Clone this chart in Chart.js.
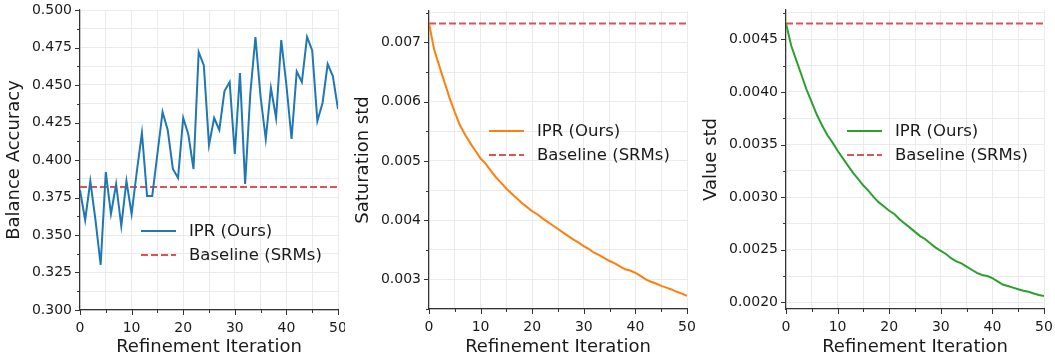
<!DOCTYPE html>
<html>
<head>
<meta charset="utf-8">
<script src="https://cdn.jsdelivr.net/npm/chart.js@4.4.1/dist/chart.umd.min.js"></script>
<style>
  html, body { margin: 0; padding: 0; background: #fff; }
  #wrap { position: relative; width: 1055px; height: 358px; }
  canvas { position: absolute; top: 0; }
</style>
</head>
<body>
<div id="wrap">
  <canvas id="accChart" width="345" height="358" style="left:0px"></canvas>
  <canvas id="satChart" width="350" height="358" style="left:345px"></canvas>
  <canvas id="valChart" width="355" height="358" style="left:700px"></canvas>
</div>
<script>
// --- data ---
const iterations = Array.from({ length: 51 }, (_, i) => i);

const accuracyIPR = [
  0.380, 0.360, 0.386, 0.360, 0.330, 0.392, 0.364, 0.384, 0.356, 0.386,
  0.364, 0.392, 0.418, 0.376, 0.376, 0.404, 0.432, 0.420, 0.394, 0.388,
  0.428, 0.417, 0.394, 0.472, 0.463, 0.410, 0.428, 0.420, 0.446, 0.452,
  0.404, 0.458, 0.384, 0.444, 0.482, 0.442, 0.414, 0.448, 0.428, 0.480,
  0.450, 0.414, 0.459, 0.452, 0.482, 0.473, 0.426, 0.438, 0.464, 0.456,
  0.434
];
const accuracyBaseline = 0.382;

const saturationIPR = [
  0.00732, 0.00688, 0.00660, 0.00633, 0.00606, 0.00582, 0.00560, 0.00544, 0.00530, 0.00517,
  0.00504, 0.00495, 0.00483, 0.00472, 0.00463, 0.00453, 0.00445, 0.00437, 0.00429, 0.00422,
  0.00415, 0.00410, 0.00403, 0.00397, 0.00391, 0.00385, 0.00379, 0.00373, 0.00367, 0.00362,
  0.00356, 0.00351, 0.00345, 0.00341, 0.00336, 0.00331, 0.00327, 0.00322, 0.00317, 0.00315,
  0.00311, 0.00306, 0.00300, 0.00296, 0.00293, 0.00289, 0.00286, 0.00283, 0.00279, 0.00276,
  0.00272
];
const saturationBaseline = 0.00732;

const valueIPR = [
  0.00465, 0.00444, 0.00430, 0.00416, 0.00402, 0.00390, 0.00378, 0.00368, 0.00359, 0.00352,
  0.00344, 0.00337, 0.00330, 0.00323, 0.00317, 0.00311, 0.00306, 0.00300, 0.00295, 0.00291,
  0.00287, 0.00284, 0.00279, 0.00275, 0.00271, 0.00267, 0.00263, 0.00260, 0.00256, 0.00252,
  0.00249, 0.00246, 0.00242, 0.00239, 0.00237, 0.00234, 0.00231, 0.00228, 0.00226, 0.00225,
  0.00223, 0.00220, 0.00217, 0.002155, 0.00214, 0.002125, 0.00211, 0.00210, 0.002085, 0.00207,
  0.00206
];
const valueBaseline = 0.00465;

// tick values
const xMajorTicks = [0, 10, 20, 30, 40, 50];
const xMinorTicks = [5, 15, 25, 35, 45];
const accMajorTicks = [0.300, 0.325, 0.350, 0.375, 0.400, 0.425, 0.450, 0.475, 0.500];
const accMinorTicks = [0.3125, 0.3375, 0.3625, 0.3875, 0.4125, 0.4375, 0.4625, 0.4875];
const satMajorTicks = [0.003, 0.004, 0.005, 0.006, 0.007];
const satMinorTicks = [0.0025, 0.0035, 0.0045, 0.0055, 0.0065, 0.0075];
const valMajorTicks = [0.0020, 0.0025, 0.0030, 0.0035, 0.0040, 0.0045];
const valMinorTicks = [0.00225, 0.00275, 0.00325, 0.00375, 0.00425, 0.00475];

const FONT = "'DejaVu Sans', sans-serif";
const GRID = '#ebebeb';
const SPINE = '#333333';
const BASE_RED = 'rgba(214, 39, 40, 0.8)';

// draws matplotlib-style outward tick marks (long = major, short = minor)
const tickMarks = {
  id: 'tickMarks',
  afterDraw(chart) {
    const ctx = chart.ctx;
    const area = chart.chartArea;
    ctx.save();
    ctx.strokeStyle = SPINE;
    ctx.lineWidth = 1;
    Object.values(chart.scales).forEach(scale => {
      scale.ticks.forEach(t => {
        const len = t.label !== '' ? 5 : 3;
        const p = Math.round(scale.getPixelForValue(t.value)) + 0.5;
        ctx.beginPath();
        if (scale.axis === 'x') {
          ctx.moveTo(p, area.bottom);
          ctx.lineTo(p, area.bottom + len);
        } else {
          ctx.moveTo(area.left, p);
          ctx.lineTo(area.left - len, p);
        }
        ctx.stroke();
      });
    });
    ctx.restore();
  }
};

// legend drawn inside the axes, no frame
const inlineLegend = {
  id: 'inlineLegend',
  afterDatasetsDraw(chart, args, opts) {
    const ctx = chart.ctx;
    ctx.save();
    ctx.font = '16.5px ' + FONT;
    ctx.textBaseline = 'middle';
    ctx.fillStyle = '#1a1a1a';
    chart.data.datasets.forEach((ds, i) => {
      const y = opts.y + i * 24;
      ctx.strokeStyle = ds.borderColor;
      ctx.lineWidth = ds.borderWidth;
      ctx.setLineDash(ds.borderDash || []);
      ctx.beginPath();
      ctx.moveTo(opts.x, y);
      ctx.lineTo(opts.x + 35, y);
      ctx.stroke();
      ctx.setLineDash([]);
      ctx.fillText(ds.label, opts.x + 48, y + 1);
    });
    ctx.restore();
  }
};

function buildTicks(majors, minors) {
  return [...majors, ...minors].sort((a, b) => a - b).map(v => ({ value: v }));
}

function isMajor(majors, v) {
  return majors.some(m => Math.abs(m - v) < 1e-9);
}

function noPad(s) {
  s.paddingTop = 0; s.paddingBottom = 0; s.paddingLeft = 0; s.paddingRight = 0;
}

function makeChart(id, cfg) {
  const points = iterations.map((x, i) => ({ x: x, y: cfg.values[i] }));
  const base = [
    { x: iterations[0], y: cfg.baseline },
    { x: iterations[iterations.length - 1], y: cfg.baseline }
  ];
  return new Chart(document.getElementById(id), {
    type: 'line',
    data: {
      datasets: [{
        label: 'IPR (Ours)',
        data: points,
        borderColor: cfg.color,
        borderWidth: 2,
        pointRadius: 0,
        tension: 0
      }, {
        label: 'Baseline (SRMs)',
        data: base,
        borderColor: BASE_RED,
        borderWidth: 2,
        borderDash: [7, 3],
        pointRadius: 0
      }]
    },
    options: {
      responsive: false,
      animation: false,
      layout: { padding: { top: cfg.padTop, right: cfg.padRight, bottom: 0, left: 0 } },
      plugins: {
        legend: { display: false },
        tooltip: { enabled: false },
        inlineLegend: cfg.legend
      },
      scales: {
        x: {
          type: 'linear',
          min: 0,
          max: 50,
          afterFit: s => { s.height = cfg.xHeight; noPad(s); },
          afterBuildTicks: s => { s.ticks = buildTicks(xMajorTicks, xMinorTicks); },
          grid: { color: GRID, drawTicks: false },
          border: { display: true, color: SPINE, width: 1.2 },
          ticks: {
            autoSkip: false,
            maxRotation: 0,
            padding: 10,
            color: '#1a1a1a',
            font: { family: FONT, size: 14 },
            callback: v => isMajor(xMajorTicks, v) ? String(v) : ''
          },
          title: {
            display: true,
            text: 'Refinement Iteration',
            color: '#1a1a1a',
            font: { family: FONT, size: 18, lineHeight: 1.2 },
            padding: { top: 0, bottom: 0 }
          }
        },
        y: {
          type: 'linear',
          min: cfg.yMin,
          max: cfg.yMax,
          afterFit: s => { s.width = cfg.yWidth; noPad(s); },
          afterBuildTicks: s => { s.ticks = buildTicks(cfg.majors, cfg.minors); },
          grid: { color: GRID, drawTicks: false },
          border: { display: true, color: SPINE, width: 1.2 },
          ticks: {
            autoSkip: false,
            padding: 8,
            color: '#1a1a1a',
            font: { family: FONT, size: 14 },
            callback: v => isMajor(cfg.majors, v) ? v.toFixed(cfg.digits) : ''
          },
          title: {
            display: true,
            text: cfg.yTitle,
            color: '#1a1a1a',
            font: { family: FONT, size: 18, lineHeight: 1.2 },
            padding: { top: cfg.yTitlePad, bottom: 0 }
          }
        }
      }
    },
    plugins: [tickMarks, inlineLegend]
  });
}

makeChart('accChart', {
  values: accuracyIPR, baseline: accuracyBaseline, color: '#1f77b4',
  yMin: 0.300, yMax: 0.500, majors: accMajorTicks, minors: accMinorTicks, digits: 3,
  yTitle: 'Balance Accuracy', yTitlePad: 4, yWidth: 80, padTop: 10, padRight: 7, xHeight: 48,
  legend: { x: 141, y: 231 }
});

makeChart('satChart', {
  values: saturationIPR, baseline: saturationBaseline, color: '#ff7f0e',
  yMin: 0.00250, yMax: 0.00753, majors: satMajorTicks, minors: satMinorTicks, digits: 3,
  yTitle: 'Saturation std', yTitlePad: 8, yWidth: 84, padTop: 11, padRight: 8, xHeight: 49,
  legend: { x: 144, y: 131 }
});

makeChart('valChart', {
  values: valueIPR, baseline: valueBaseline, color: '#2ca02c',
  yMin: 0.001937, yMax: 0.004778, majors: valMajorTicks, minors: valMinorTicks, digits: 4,
  yTitle: 'Value std', yTitlePad: 1, yWidth: 86, padTop: 10, padRight: 11, xHeight: 49,
  legend: { x: 147, y: 131 }
});
</script>
</body>
</html>
